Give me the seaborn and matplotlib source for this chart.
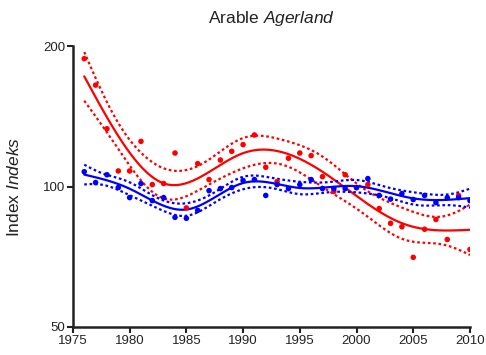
import numpy as np
import pandas as pd
import seaborn as sns
import matplotlib
matplotlib.use("Agg")
import matplotlib.pyplot as plt

# yearly index values
years = [1976, 1977, 1978, 1979, 1980, 1981, 1982, 1983, 1984, 1985,
         1986, 1987, 1988, 1989, 1990, 1991, 1992, 1993, 1994, 1995,
         1996, 1997, 1998, 1999, 2000, 2001, 2002, 2003, 2004, 2005,
         2006, 2007, 2008, 2009, 2010]
red_index = [188, 165, 133, 108, 108, 125, 101, 101.5, 118, 90,
             112, 103.5, 114, 119, 123, 129, 110, 102.5, 115, 118,
             116.5, 105, 97.6, 106, 99.5, 101, 89.7, 83.4, 82, 70.5,
             81, 85, 77, 95.7, 73.3]
blue_index = [107.6, 102, 106, 99.5, 94.7, 101.5, 93.3, 94.7, 85.9, 85.5,
              88.9, 98, 99, 99.5, 103, 103.5, 95.7, 101, 99, 101,
              103.5, 99, 99, 99, 99.5, 104, 95.7, 94, 96.6, 93.8,
              95.7, 92.4, 94.7, 94.7, 93.3]

# spline knots used for the smoothed trend of each series
red_knots = [1976, 1983, 1990, 1997, 2004, 2010]
blue_knots = [1976, 1980, 1985, 1990, 1995, 2000, 2005, 2010]

df = pd.DataFrame({"year": years, "red": red_index, "blue": blue_index})

sns.set_theme(style="ticks")
plt.rcParams["font.family"] = ["Liberation Sans", "DejaVu Sans"]
plt.rcParams["mathtext.fontset"] = "custom"
plt.rcParams["mathtext.it"] = "Liberation Sans:italic"
plt.rcParams["mathtext.rm"] = "Liberation Sans"


def ns_basis(x, kn):
    """Natural cubic spline basis (ESL 5.4)."""
    x = np.asarray(x, float)
    kn = np.asarray(kn, float)
    K = len(kn)

    def d(k):
        return (np.clip(x - kn[k], 0, None) ** 3
                - np.clip(x - kn[-1], 0, None) ** 3) / (kn[-1] - kn[k])

    cols = [np.ones_like(x), x - kn[0]]
    for k in range(K - 2):
        cols.append(d(k) - d(K - 2))
    return np.column_stack(cols)


def smooth_fit(x, y, kn, grid):
    """Spline trend in log space with a 95% band for the mean."""
    X = ns_basis(x, kn)
    Xg = ns_basis(grid, kn)
    ly = np.log(np.asarray(y, float))
    beta = np.linalg.lstsq(X, ly, rcond=None)[0]
    resid = ly - X @ beta
    s2 = resid @ resid / (len(ly) - X.shape[1])
    cov = s2 * np.linalg.pinv(X.T @ X)
    fit = Xg @ beta
    se = np.sqrt(np.einsum("ij,jk,ik->i", Xg, cov, Xg))
    return np.exp(fit), np.exp(fit - 1.96 * se), np.exp(fit + 1.96 * se)


grid = np.linspace(1976, 2010, 200)

fig, ax = plt.subplots(figsize=(4.86, 3.55), dpi=100)
fig.subplots_adjust(left=0.150, right=0.967, top=0.870, bottom=0.079)

for col, colour, kn in [("red", "#ff0000", red_knots),
                        ("blue", "#0000ff", blue_knots)]:
    mid, lo, hi = smooth_fit(df["year"], df[col], kn, grid)
    sns.lineplot(x=grid, y=mid, color=colour, lw=1.6, ax=ax)
    for band in (lo, hi):
        sns.lineplot(x=grid, y=band, color=colour, lw=1.6, ax=ax,
                     linestyle=(0, (1.2, 1.2)))
    sns.scatterplot(data=df, x="year", y=col, color=colour, s=16,
                    edgecolor="none", ax=ax, zorder=3)

ax.set_yscale("log")
ax.set_ylim(50, 200)
ax.set_xlim(1975, 2010)
ax.set_yticks([50, 100, 200])
ax.set_yticklabels(["50", "100", "200"])
ax.minorticks_off()
ax.set_xticks(range(1975, 2011, 5))
ax.tick_params(axis="both", labelsize=9.5, length=4, width=1.5,
               color="#222222", labelcolor="#222222", pad=1.5)
for side in ("left", "bottom"):
    ax.spines[side].set_linewidth(1.8)
    ax.spines[side].set_color("#222222")
sns.despine(ax=ax)

ax.set_xlabel("")
ax.set_ylabel(r"Index $\it{Indeks}$", fontsize=12.5, color="#222222", labelpad=15)
ax.set_title(r"Arable $\it{Agerland}$", fontsize=12.5, color="#222222", pad=17)

plt.savefig("out.png", dpi=100)
